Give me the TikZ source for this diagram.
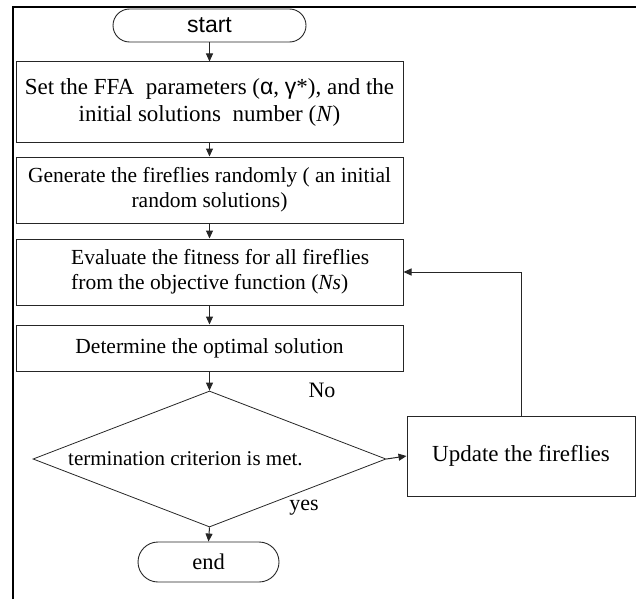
\documentclass[tikz,border=0pt]{standalone}
\usepackage{fontspec}
\setmainfont{Liberation Serif}
\setsansfont{Liberation Sans}
\usetikzlibrary{arrows.meta,shapes.misc,shapes.geometric}
\tikzset{
  procbox/.style={draw=black!85, line width=1pt, rectangle, minimum width=387pt, inner sep=0pt, align=center, font=\fontsize{21.5}{25}\selectfont},
  termbox/.style={draw=black!85, line width=0.9pt, rounded rectangle, inner sep=0pt},
  decbox/.style={draw=black!85, line width=0.8pt, diamond, aspect=2.6, inner sep=0pt, minimum width=353pt, minimum height=136pt},
  arr/.style={draw=black!85, line width=1pt, -{Triangle[length=8pt,width=7pt]}},
  lbl/.style={font=\fontsize{22}{26}\selectfont, inner sep=0pt}
}
\begin{document}
\begin{tikzpicture}[x=1pt,y=-1pt]
\useasboundingbox (0,0) rectangle (636,599);
% outer frame
\draw[line width=2.5pt] (13,599) -- (13,7) -- (636,7);
% nodes
\node[termbox, minimum width=193pt, minimum height=33pt, font=\sffamily\fontsize{23}{26}\selectfont] (start) at (209.5,25.5) {start};
\node[procbox, minimum height=80pt, font=\fontsize{23}{27}\selectfont] (b1) at (209.5,102) {Set the FFA\ \ parameters ({\sffamily α}, {\sffamily γ}*), and the\\initial solutions\ \ number (\textit{N})};
\node[procbox, minimum height=66pt] (b2) at (209.5,190) {Generate the fireflies randomly ( an initial\\random solutions)};
\node[procbox, minimum height=66pt] (b3) at (209.5,272) {};
\node[anchor=west, align=left, inner sep=0pt, font=\fontsize{21.5}{25}\selectfont] (b3t) at (71,272) {Evaluate the fitness for all fireflies\\from the objective function (\textit{Ns})};
\node[procbox, minimum height=46pt] (b4) at (209.5,348) {Determine the optimal solution};
\node[decbox] (dec) at (209.5,459) {};
\node[anchor=west, inner sep=0pt, font=\fontsize{21}{24}\selectfont] (dect) at (68,459) {termination criterion is met.};
\node[draw=black!85, line width=1pt, rectangle, minimum width=228pt, minimum height=80pt, inner sep=0pt, font=\fontsize{23}{26}\selectfont] (upd) at (521,456) {Update the fireflies};
\node[termbox, minimum width=141pt, minimum height=40pt, font=\fontsize{22.5}{26}\selectfont] (end) at (208.5,562) {end};
\node[lbl] (no) at (322,390) {No};
\node[lbl] (yes) at (304,508) {yes};
% connectors
\draw[arr] (start.south) -- (b1.north);
\draw[arr] (b1.south) -- (b2.north);
\draw[arr] (b2.south) -- (b3.north);
\draw[arr] (b3.south) -- (b4.north);
\draw[arr] (b4.south) -- (dec.north);
\draw[arr] (dec.south) -- (end.north);
\draw[arr] (dec.east) -- (upd.west);
\draw[arr] (upd.north) |- (b3.east);
\end{tikzpicture}
\end{document}
